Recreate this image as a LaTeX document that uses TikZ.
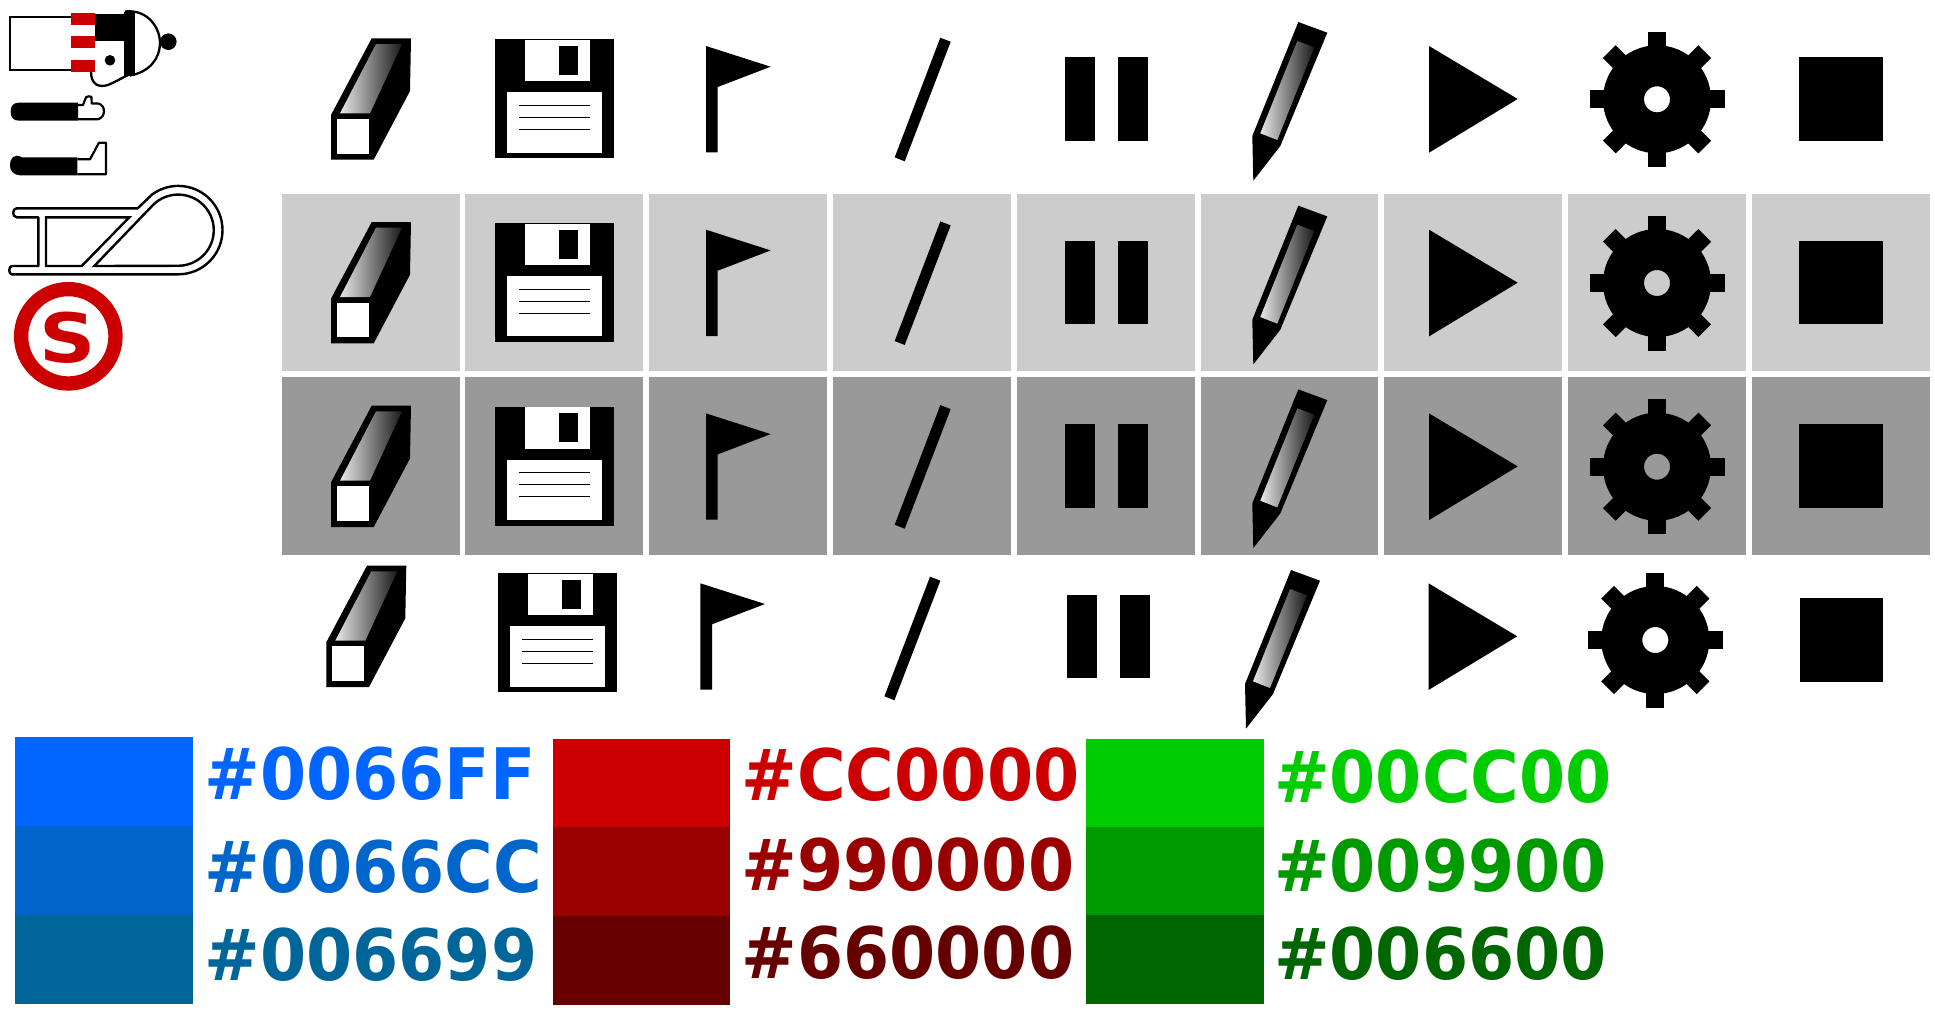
\documentclass[tikz,border=0pt]{standalone}
\usepackage{fontspec}
\setmainfont{DejaVu Sans}
\definecolor{blueA}{HTML}{0066FF}\definecolor{blueB}{HTML}{0066CC}\definecolor{blueC}{HTML}{006699}
\definecolor{redA}{HTML}{CC0000}\definecolor{redB}{HTML}{990000}\definecolor{redC}{HTML}{660000}
\definecolor{greenA}{HTML}{00CC00}\definecolor{greenB}{HTML}{009900}\definecolor{greenC}{HTML}{006600}
\definecolor{tileA}{HTML}{CCCCCC}\definecolor{tileB}{HTML}{999999}
\definecolor{gradL}{HTML}{E8E8E8}\definecolor{gradD}{HTML}{1A1A1A}
\tikzset{
  grad/.style={left color=gradL,right color=gradD,draw=none},
  outline/.style={draw=black,line width=2.3pt,line join=miter},
  lab/.style={anchor=base west,inner sep=0pt,outer sep=0pt},
}
\newcommand{\labtext}[1]{\scalebox{0.935}[1]{\fontsize{71}{71}\selectfont\bfseries #1}}
\newcommand{\iconEraser}{%
  \fill (331,115)--(371.7,38.3)--(411,38.3)--(410,91)--(373.7,159.7)--(331,159.7)--cycle;
  \fill[white] (337,119) rectangle (369,153.7);
  \shade[grad] (340,113.3)--(376,44)--(402,44)--(370,113.3)--cycle;
}
\newcommand{\iconFloppy}{%
  \fill (495.3,39.3) rectangle (614,158.3);
  \fill[white] (525,39.8) rectangle (590.3,81.3);
  \fill (559,46) rectangle (578,75);
  \fill[white] (507,92.3) rectangle (602.3,152.7);
  \foreach \ly in {105.3,117.3,129.3}{\draw[line width=0.9pt] (519.3,\ly) -- (590.3,\ly);}
}
\newcommand{\iconFlag}{%
  \fill (706,46)--(770.7,66.7)--(717.7,87)--(717.7,152.3)--(706,152.3)--cycle;
}
\newcommand{\iconSlash}{%
  \fill (940.3,37.7)--(950.7,41.7)--(904.7,161.3)--(894.7,157.3)--cycle;
}
\newcommand{\iconPause}{%
  \fill (1065,57) rectangle (1095,140.7);
  \fill (1118,57) rectangle (1148,140.7);
}
\newcommand{\iconPencil}{%
  \fill (1298.3,22)--(1327.3,32.7)--(1280.3,146)--(1253.3,180.7)--(1252.3,136)--cycle;
  \shade[grad] (1297.3,41)--(1314.3,47.3)--(1277.3,140)--(1260.3,133.3)--cycle;
}
\newcommand{\iconPlay}{%
  \fill (1429,46)--(1517.7,99)--(1429,152.7)--cycle;
}
\newcommand{\iconGear}{%
  \begin{scope}[shift={(1657,99.3)}]
    \draw[line width=41pt] (0,0) circle[radius=33.5];
    \foreach \ga in {0,45,...,315}{\fill[rotate=\ga] (50,-9) rectangle (67.5,9);}
  \end{scope}
}
\newcommand{\iconStop}{%
  \fill (1799.3,57) rectangle (1882.7,140.7);
}
\newcommand{\iconRow}{\iconEraser\iconFloppy\iconFlag\iconSlash\iconPause\iconPencil\iconPlay\iconGear\iconStop}
\begin{document}
\begin{tikzpicture}[x=1pt,y=-1pt]
\useasboundingbox (0,0) rectangle (1935,1015);
\fill[white] (0,0) rectangle (1935,1015);
% tiles
\foreach \i in {0,...,8}{
  \pgfmathsetmacro{\tx}{281.7+183.76*\i}
  \pgfmathsetmacro{\txe}{\tx+177.8}
  \fill[tileA] (\tx,194) rectangle (\txe,371.2);
  \fill[tileB] (\tx,377.4) rectangle (\txe,555);
}
% icon rows
\iconRow
\begin{scope}[shift={(0,183.7)}]\iconRow\end{scope}
\begin{scope}[shift={(0,367.4)}]\iconRow\end{scope}
\begin{scope}[shift={(-4.7,527.3)}]\iconEraser\end{scope}
\begin{scope}[shift={(3,534)}]\iconFloppy\end{scope}
\begin{scope}[shift={(-5.7,537.3)}]\iconFlag\end{scope}
\begin{scope}[shift={(-10.3,539)}]\iconSlash\end{scope}
\begin{scope}[shift={(2.3,537.5)}]\iconPause\end{scope}
\begin{scope}[shift={(-7.3,548)}]\iconPencil\end{scope}
\begin{scope}[shift={(-0.5,537.3)}]\iconPlay\end{scope}
\begin{scope}[shift={(-1.7,540.7)}]\iconGear\end{scope}
\begin{scope}[shift={(0.7,541)}]\iconStop\end{scope}
% figure with cap
\draw[outline] (71,17) -- (10,17) -- (10,70) -- (71,70);
\fill[redA] (71,12.7) rectangle (95,24.7);
\fill[redA] (71,36) rectangle (95,48.3);
\fill[redA] (71,60) rectangle (95,72);
\fill (95,14) rectangle (124.3,40.7);
\fill (124.3,11.5) rectangle (135.3,75.5);
\draw[line width=2.3pt] (125,11.5) .. controls (148,9) and (160,28) .. (160,43) .. controls (160,58) and (150,72) .. (130,75.5);
\fill (168.3,41.7) circle[radius=8.3];
\fill (110,60.3) circle[radius=5.3];
\draw[line width=2.3pt] (91,71.7) .. controls (91,84) and (98,88) .. (108,85) .. controls (115,82) and (120,79) .. (128,75);
% mitten
\fill (78,102.7)--(19,102.7) .. controls (13,102.7) and (10.7,106) .. (10.7,111.7) .. controls (10.7,117) and (13,120.7) .. (19,120.7)--(78,120.7)--cycle;
\draw[line width=2.2pt,line join=round] (78,105)--(83,105)--(86,97.3) .. controls (87,96) and (90.5,96) .. (91.5,97)--(91.7,103.5)--(98,103.5) .. controls (106,105) and (106,117) .. (98,119.3)--(78,119.3);
% boot
\fill (77.3,157.3)--(22,157.3) .. controls (14,153) and (10,158) .. (10,166) .. controls (10,171) and (14,175) .. (20,175.3)--(77.3,175.3)--cycle;
\draw[line width=2.2pt,line join=round] (77.3,159.3)--(90,159.3)--(99,142.7)--(106,142.7)--(106,174.3)--(77.3,174.3);
% sled
\draw[line width=2.4pt,line join=round] (137.7,208.3)--(16.7,208.3) .. controls (12,208.5) and (12,217) .. (16.7,217.3)--(38.3,217.3)--(38.3,266)--(11.7,266) .. controls (8.5,266.5) and (8.5,274) .. (11.7,274.3)--(178.3,274.3) arc[start angle=90,end angle=-127,radius=44.2]--cycle;
\draw[line width=2.4pt,line join=miter] (46,217.3)--(129.3,217.3)--(81.7,266)--(46,266)--cycle;
\draw[line width=2.4pt,line join=miter] (94.3,266)--(153,205) arc[start angle=-135,end angle=90,radius=35.6]--cycle;
% S badge
\draw[redA,line width=14.3pt] (68.3,336.3) circle[radius=47.2];
\node[anchor=base,inner sep=0pt,text=redA] (badge) at (67.8,362.3) {\scalebox{1.15}[1]{\fontsize{68}{68}\selectfont\bfseries S}};
% swatches
\fill[blueA] (14.8,737.3) rectangle (193,826.4);
\fill[blueB] (14.8,826.4) rectangle (193,915);
\fill[blueC] (14.8,915) rectangle (193,1004);
\fill[redA] (552.6,738.7) rectangle (730,827.3);
\fill[redB] (552.6,827.3) rectangle (730,916);
\fill[redC] (552.6,916) rectangle (730,1005);
\fill[greenA] (1086,739) rectangle (1263.7,827);
\fill[greenB] (1086,827) rectangle (1263.7,915);
\fill[greenC] (1086,915) rectangle (1263.7,1003.5);
% labels
\node[lab,text=blueA] (b1) at (204.5,799) {\labtext{\#0066FF}};
\node[lab,text=blueB] (b2) at (204.5,892.7) {\labtext{\#0066CC}};
\node[lab,text=blueC] (b3) at (204.5,980.7) {\labtext{\#006699}};
\node[lab,text=redA] (r1) at (741.5,800.7) {\labtext{\#CC0000}};
\node[lab,text=redB] (r2) at (741.5,890) {\labtext{\#990000}};
\node[lab,text=redC] (r3) at (741.5,978.3) {\labtext{\#660000}};
\node[lab,text=greenA] (g1) at (1274,802) {\labtext{\#00CC00}};
\node[lab,text=greenB] (g2) at (1274,891) {\labtext{\#009900}};
\node[lab,text=greenC] (g3) at (1274,979) {\labtext{\#006600}};
\end{tikzpicture}
\end{document}
